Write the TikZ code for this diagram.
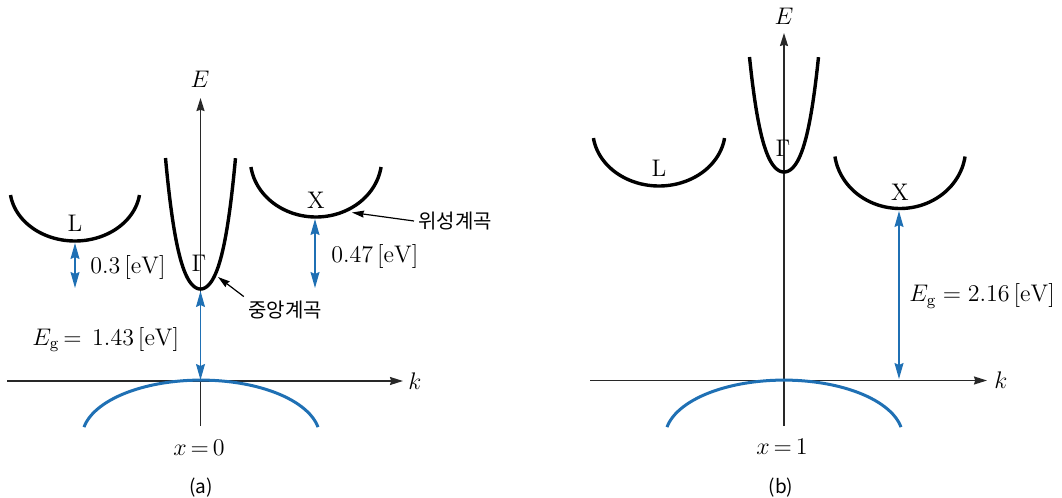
\documentclass[tikz,border=0pt]{standalone}
\usepackage{fontspec}
\newfontfamily\krfont{Noto Sans CJK KR}
\usetikzlibrary{arrows.meta}
\definecolor{gapblue}{RGB}{31,112,180}
\definecolor{axisgray}{RGB}{40,40,40}
\begin{document}
\begin{tikzpicture}[x=0.5pt,y=-0.5pt,
  valley/.style={line width=1.7pt, black},
  valence/.style={line width=1.5pt, gapblue},
  axis/.style={line width=0.7pt, axisgray, -{Stealth[length=6.5pt,width=4pt,inset=0.6pt]}},
  gap/.style={line width=0.65pt, gapblue, {Stealth[length=8pt,width=4.5pt,inset=1pt]}-{Stealth[length=8pt,width=4.5pt,inset=1pt]}},
  ann/.style={line width=0.6pt, black, -{Stealth[length=6pt,width=3.5pt,inset=0.5pt]}},
  sym/.style={font=\fontsize{12}{14}\selectfont, inner sep=0pt},
  val/.style={font=\fontsize{12}{14}\selectfont, inner sep=0pt},
  kr/.style={font=\krfont\fontsize{10}{12}\selectfont, inner sep=2pt},
  panellabel/.style={font=\krfont\fontsize{9.5}{11}\selectfont, inner sep=0pt}]
\useasboundingbox (0,0) rectangle (1062,498);

% ---------------- panel (a) ----------------
\coordinate (a-k0) at (7,381);
\coordinate (a-k1) at (403,381);
\coordinate (a-E0) at (200.5,426);
\coordinate (a-E1) at (200.5,98);
\draw[axis] (a-k0) -- (a-k1);
\draw[axis] (a-E0) -- (a-E1);
\node[sym, anchor=base] (a-Elab) at (200,87) {$E$};
\node[sym, anchor=base] (a-klab) at (415,389) {$k$};

% valence band
\draw[valence] plot[domain=10:170, samples=60, smooth] ({201 - 118.8*cos(\x)}, {437 - 56.9*sin(\x)});

% Gamma valley
\draw[valley] plot[domain=-1:1, samples=81, smooth] ({200.5+35*\x}, {289 - 131*(0.547*\x*\x + 0.453*\x*\x*\x*\x)});
% L valley
\draw[valley] plot[domain=8:172, samples=60, smooth] ({75 - 65.1*cos(\x)}, {187.6 + 53.4*sin(\x)});
% X valley
\draw[valley] plot[domain=8:172, samples=60, smooth] ({316 - 65.7*cos(\x)}, {158.9 + 58.1*sin(\x)});

\node[sym, anchor=base] (a-G) at (199,271.5) {$\Gamma$};
\node[sym, anchor=base] (a-L) at (75,231.5) {L};
\node[sym, anchor=base] (a-X) at (316,208) {X};

% gaps
\coordinate (a-Ltop) at (75,243);
\coordinate (a-Lbot) at (75,288);
\draw[gap] (a-Ltop) -- (a-Lbot);
\coordinate (a-Xtop) at (315,219);
\coordinate (a-Xbot) at (315,288);
\draw[gap] (a-Xtop) -- (a-Xbot);
\coordinate (a-Gtop) at (200.5,291);
\coordinate (a-Gbot) at (200.5,380);
\draw[gap] (a-Gtop) -- (a-Gbot);

\node[val, anchor=base west] (a-v03) at (90,273) {$0.3\,[\mathrm{eV}]$};
\node[val, anchor=base west] (a-v047) at (331,262.5) {$0.47\,[\mathrm{eV}]$};
\node[val, anchor=base west] (a-Eg) at (32,345) {$E_{\mathrm{g}}\,{=}\;\,1.43\,[\mathrm{eV}]$};

% annotations
\node[kr, anchor=west] (wiseong) at (414,221) {위성계곡};
\coordinate (Xside) at (352,212.5);
\draw[ann] (wiseong.west) -- (Xside);
\node[kr, anchor=center] (jungang) at (285,310) {중앙계곡};
\coordinate (Gside) at (218,277);
\draw[ann] (jungang.north west) -- (Gside);

\node[val, anchor=base] (a-x) at (199,455) {$x\,{=}\,0$};
\node[panellabel, anchor=base] (a-cap) at (201,493) {(a)};

% ---------------- panel (b) ----------------
\coordinate (b-k0) at (590,380.5);
\coordinate (b-k1) at (987,380.5);
\coordinate (b-E0) at (784,426);
\coordinate (b-E1) at (784,33);
\draw[axis] (b-k0) -- (b-k1);
\draw[axis] (b-E0) -- (b-E1);
\node[sym, anchor=base] (b-Elab) at (784,25) {$E$};
\node[sym, anchor=base] (b-klab) at (1001,388) {$k$};

\draw[valence] plot[domain=10:170, samples=60, smooth] ({784 - 118.8*cos(\x)}, {437 - 56.9*sin(\x)});

\draw[valley] plot[domain=-1:1, samples=81, smooth] ({784+34.5*\x}, {172 - 115*(0.547*\x*\x + 0.453*\x*\x*\x*\x)});
\draw[valley] plot[domain=8:172, samples=60, smooth] ({659 - 66.2*cos(\x)}, {130.3 + 55.7*sin(\x)});
\draw[valley] plot[domain=8:172, samples=60, smooth] ({900 - 65.7*cos(\x)}, {148.1 + 60.4*sin(\x)});

\node[sym, anchor=base] (b-G) at (783,156.5) {$\Gamma$};
\node[sym, anchor=base] (b-L) at (659,176.5) {L};
\node[sym, anchor=base] (b-X) at (900,200) {X};

\coordinate (b-Xtop) at (899,211);
\coordinate (b-Xbot) at (899,379);
\draw[gap] (b-Xtop) -- (b-Xbot);
\node[val, anchor=base west] (b-Eg) at (909,301.5) {$E_{\mathrm{g}} = 2.16\,[\mathrm{eV}]$};

\node[val, anchor=base] (b-x) at (782,454) {$x\,{=}\,1$};
\node[panellabel, anchor=base] (b-cap) at (781,493) {(b)};
\end{tikzpicture}
\end{document}
